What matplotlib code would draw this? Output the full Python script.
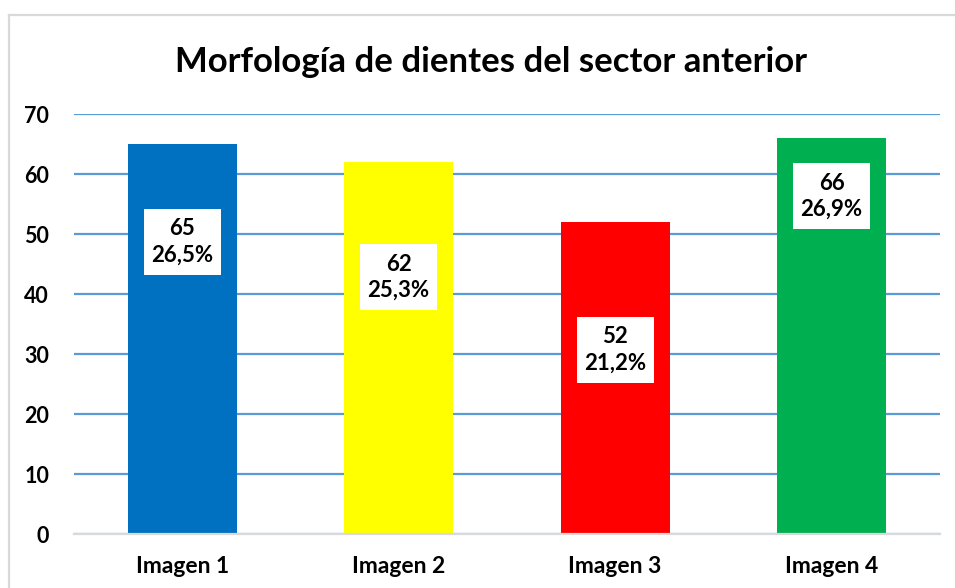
import matplotlib.pyplot as plt
from matplotlib.lines import Line2D
from matplotlib.patches import Rectangle

# datos del grafico
categorias = ['Imagen 1', 'Imagen 2', 'Imagen 3', 'Imagen 4']
valores = [65, 62, 52, 66]
porcentajes = ['26,5%', '25,3%', '21,2%', '26,9%']
colores = ['#0070C0', '#FFFF00', '#FF0000', '#00B050']
# altura (en unidades del eje) donde va cada etiqueta
pos_etiqueta = [48.7, 42.8, 30.7, 56.3]

plt.rcParams['font.family'] = ['Lato', 'DejaVu Sans']
plt.rcParams['font.weight'] = 'bold'

fig = plt.figure(figsize=(9.55, 5.88), dpi=100)
ax = fig.add_axes([0.0775, 0.0918, 0.9065, 0.7142])

x = list(range(len(categorias)))
ax.bar(x, valores, width=0.503, color=colores, zorder=3)

ax.set_xlim(-0.5, 3.5)
ax.set_ylim(0, 70)
ax.set_yticks(range(0, 71, 10))
ax.set_xticks(x)
ax.set_xticklabels(categorias)
ax.tick_params(axis='y', length=0, pad=18, labelsize=15.5)
ax.tick_params(axis='x', length=0, pad=16, labelsize=16.5)

ax.grid(axis='y', color='#5B9BD5', linewidth=1.6, zorder=0)
for s in ['top', 'right', 'left']:
    ax.spines[s].set_visible(False)
ax.spines['bottom'].set_color('#D9D9D9')
ax.spines['bottom'].set_linewidth(1.6)
ax.spines['bottom'].set_zorder(4)

# cajas blancas con valor y porcentaje
for xi, v, p, yl in zip(x, valores, porcentajes, pos_etiqueta):
    ax.add_patch(Rectangle((xi - 0.178, yl - 5.5), 0.356, 11, facecolor='white',
                           edgecolor='none', zorder=5))
    ax.text(xi, yl, f'{v}\n{p}', ha='center', va='center', fontsize=16,
            fontweight='bold', linespacing=1.3, zorder=6)

fig.text(0.514, 0.895, 'Morfología de dientes del sector anterior', ha='center',
         va='center', fontsize=25, fontweight='bold')

# borde del area del grafico
fig.add_artist(Line2D([0.0095, 1.0], [0.975, 0.975], color='#D9D9D9', linewidth=1.6))
fig.add_artist(Line2D([0.0095, 0.0095], [0.0, 0.975], color='#D9D9D9', linewidth=1.6))

fig.savefig('out.png', dpi=100)
